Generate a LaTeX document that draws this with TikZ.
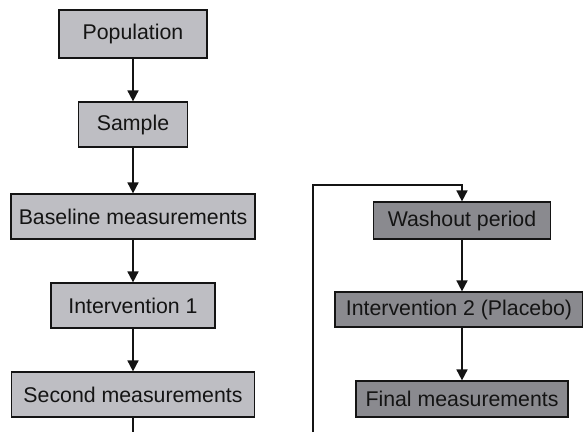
\documentclass[tikz,border=0pt]{standalone}
\usepackage{fontspec}
\setmainfont{Liberation Sans}
\usetikzlibrary{arrows.meta}
\definecolor{boxlight}{RGB}{190,190,195}
\definecolor{boxdark}{RGB}{138,138,143}
\definecolor{ink}{RGB}{20,20,20}
\tikzset{
  stepbox/.style={draw=ink, line width=1.2pt, text=ink, inner sep=0pt,
    font=\fontsize{21.3}{25}\selectfont},
  lightbox/.style={stepbox, fill=boxlight},
  darkbox/.style={stepbox, fill=boxdark},
  flow/.style={draw=ink, line width=1.7pt, -{Triangle[length=11pt,width=11pt]}},
  plain/.style={draw=ink, line width=1.7pt}
}
\begin{document}
\begin{tikzpicture}[x=1pt, y=-1pt]
\useasboundingbox (0,0) rectangle (583,432);

% left column
\node[lightbox, minimum width=148pt, minimum height=48pt] (pop)  at (133,34)    {Population};
\node[lightbox, minimum width=109pt, minimum height=45pt] (samp) at (133,124.5) {Sample};
\node[lightbox, minimum width=244pt, minimum height=45pt] (base) at (133,216.5) {Baseline measurements};
\node[lightbox, minimum width=164pt, minimum height=45pt] (int1) at (133,305.5) {Intervention 1};
\node[lightbox, minimum width=243pt, minimum height=45pt] (sec)  at (133,394.5) {Second measurements};

% right column
\node[darkbox, minimum width=177pt, minimum height=37pt] (wash) at (462,220.5) {Washout period};
\node[darkbox, minimum width=248pt, minimum height=35pt] (int2) at (459,309.5) {Intervention 2 (Placebo)};
\node[darkbox, minimum width=212pt, minimum height=36pt] (fin)  at (462,399)   {Final measurements};

% loose ends and corners of the crossover line
\coordinate (secout) at (133,432);
\coordinate (loopin) at (313,432);
\coordinate (looptop) at (313,185);

\draw[flow] (pop) -- (samp);
\draw[flow] (samp) -- (base);
\draw[flow] (base) -- (int1);
\draw[flow] (int1) -- (sec);
\draw[plain] (sec.south) -- (secout);

\draw[flow] (loopin) -- (looptop) -| (wash.north);
\draw[flow] (wash.south) -- (wash.south |- int2.north);
\draw[flow] (fin.north |- int2.south) -- (fin.north);
\end{tikzpicture}
\end{document}
